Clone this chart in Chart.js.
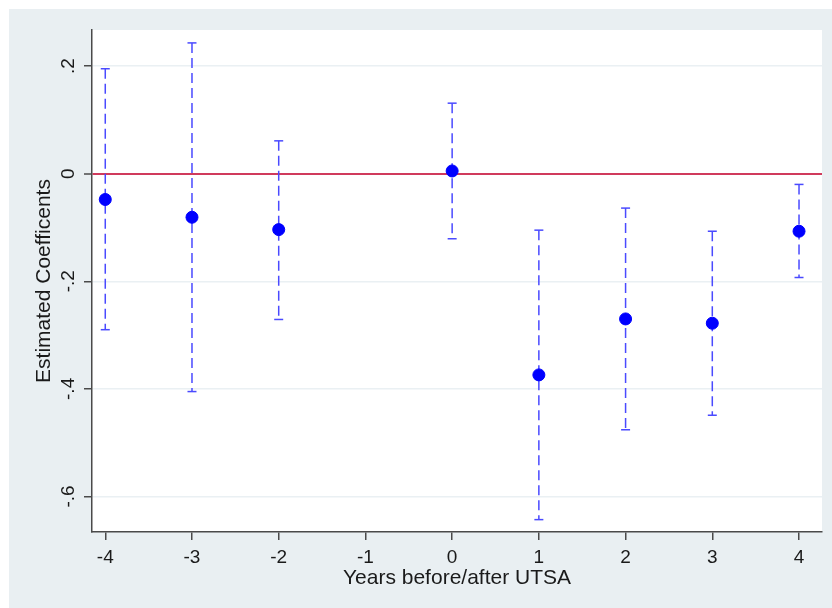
<!DOCTYPE html>
<html>
<head>
<meta charset="utf-8">
<script src="https://cdn.jsdelivr.net/npm/chart.js@4/dist/chart.umd.min.js"></script>
<style>
  html, body { margin: 0; padding: 0; background: #fff; }
  canvas { display: block; }
</style>
</head>
<body>
<canvas id="chart" width="832" height="608"></canvas>
<script>
// data
const years  = [-4, -3, -2, 0, 1, 2, 3, 4];
const coef   = [-0.048, -0.081, -0.104, 0.005, -0.374, -0.270, -0.278, -0.107];
const ciLow  = [-0.290, -0.405, -0.271, -0.121, -0.643, -0.476, -0.449, -0.193];
const ciHigh = [0.195, 0.243, 0.061, 0.131, -0.105, -0.064, -0.107, -0.020];

const xTicks = [-4, -3, -2, -1, 0, 1, 2, 3, 4];
const yTicks = [-0.6, -0.4, -0.2, 0, 0.2];
const yTickLabels = ["-.6", "-.4", "-.2", "0", ".2"];

const FONT = "'Liberation Sans', Arial, sans-serif";
const TEXT = "#1a1a1a";
const AXIS = "#4a4a4a";
const BLUE = "#0000ff";
const BAR = "#4a4aff";

// background: outer grey panel + white plot region
const bgPlugin = {
  id: "bg",
  beforeDraw(c){
    const ctx = c.ctx, a = c.chartArea;
    ctx.save();
    ctx.fillStyle = "#ffffff";
    ctx.fillRect(0, 0, c.width, c.height);
    ctx.fillStyle = "#e9eff2";
    ctx.fillRect(9, 9, c.width - 9, c.height - 9);
    ctx.fillStyle = "#ffffff";
    ctx.fillRect(a.left, a.top, a.right - a.left, a.bottom - a.top);
    ctx.restore();
  }
};

// one dashed line per confidence interval, caps drawn as 'line' points
const ciSets = years.map((yr, i) => ({
  type: "line",
  data: [{x: yr, y: ciHigh[i]}, {x: yr, y: ciLow[i]}],
  borderColor: BAR,
  borderWidth: 1.5,
  borderDash: [10, 5],
  pointStyle: "line",
  pointRadius: 4.5,
  pointBorderColor: BAR,
  pointBorderWidth: 1.5,
  pointHoverRadius: 4.5
}));

const pointSet = {
  type: "scatter",
  data: years.map((yr, i) => ({x: yr, y: coef[i]})),
  backgroundColor: BLUE,
  borderColor: BLUE,
  pointRadius: 6,
  pointHoverRadius: 6
};

new Chart(document.getElementById("chart"), {
  type: "scatter",
  data: { datasets: [pointSet, ...ciSets] },
  plugins: [bgPlugin],
  options: {
    responsive: false,
    animation: false,
    layout: { padding: { top: 30, right: 10, left: 0, bottom: 0 } },
    plugins: { legend: { display: false }, tooltip: { enabled: false } },
    scales: {
      x: {
        type: "linear",
        min: -4.153,
        max: 4.265,
        afterBuildTicks: (s) => { s.ticks = xTicks.map(v => ({value: v})); },
        afterFit: (s) => { s.height = 76; },
        border: { display: true, color: AXIS, width: 1.5 },
        grid: { drawOnChartArea: false, drawTicks: true, tickLength: 8, color: AXIS, lineWidth: 1.5 },
        ticks: { color: TEXT, font: { family: FONT, size: 19 }, padding: 6, maxRotation: 0, autoSkip: false,
                 callback: (v) => String(v) },
        title: { display: true, text: "Years before/after UTSA", color: TEXT,
                 font: { family: FONT, size: 21, lineHeight: 1.2 }, padding: { top: 0, bottom: 17 } }
      },
      y: {
        type: "linear",
        min: -0.666,
        max: 0.267,
        afterBuildTicks: (s) => { s.ticks = yTicks.map(v => ({value: v})); },
        afterFit: (s) => { s.width = 92; },
        border: { display: true, color: AXIS, width: 1.5 },
        grid: {
          drawOnChartArea: true, drawTicks: true, tickLength: 8,
          color: (c) => c.tick && c.tick.value === 0 ? "#d03a5c" : "#eaf0f3",
          lineWidth: (c) => c.tick && c.tick.value === 0 ? 2 : 1.5,
          tickColor: AXIS, tickWidth: 1.5
        },
        ticks: { color: TEXT, font: { family: FONT, size: 19 }, padding: 4, autoSkip: false,
                 minRotation: 90, maxRotation: 90, crossAlign: "center",
                 callback: (v, i) => yTickLabels[i] },
        title: { display: true, text: "Estimated Coefficents", color: TEXT,
                 font: { family: FONT, size: 21, lineHeight: 1.2 }, padding: { top: 32, bottom: 0 } }
      }
    }
  }
});
</script>
</body>
</html>
